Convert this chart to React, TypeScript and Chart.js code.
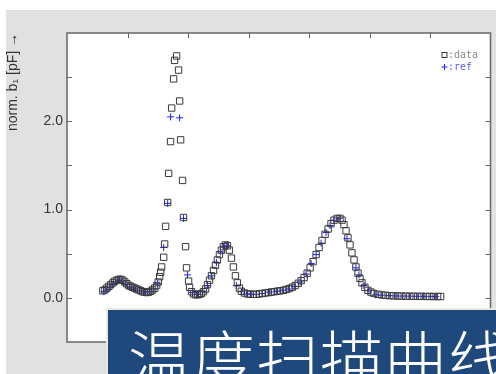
import { useEffect, useRef } from 'react';
import { Chart, registerables } from 'chart.js';

Chart.register(...registerables);

// Temperature sweep (arbitrary x units, axis 0..350)
const dataX = [
  29.6, 31.3, 32.9, 34.6, 36.2, 37.9, 39.5, 41.2, 42.8, 44.5, 46.1, 47.8, 49.4, 51.1, 52.7, 54.4,
  56.0, 57.6, 59.3, 60.9, 62.6, 64.2, 65.9, 67.5, 69.2, 70.8, 72.5, 74.1, 75.4, 76.6, 77.4, 78.2,
  79.9, 80.7, 81.5, 83.2, 84.0, 85.6, 86.5, 88.1, 88.9, 90.6, 92.2, 93.1, 93.9, 95.5, 96.3, 98.0,
  98.8, 100.5, 101.3, 102.9, 104.6, 106.2, 107.9, 109.5, 111.2, 112.8, 114.5, 116.1, 117.8, 119.4,
  121.1, 122.7, 124.3, 126.0, 127.6, 129.3, 130.9, 132.6, 134.2, 135.9, 137.5, 139.2, 140.8, 142.5,
  144.1, 146.6, 149.1, 151.5, 154.0, 156.5, 158.9, 161.4, 163.9, 166.3, 168.8, 171.3, 173.8, 176.2,
  178.7, 181.2, 183.6, 186.1, 188.6, 191.1, 193.5, 196.0, 198.5, 200.9, 203.4, 205.9, 208.3, 210.8,
  213.3, 215.8, 218.2, 220.7, 223.2, 225.6, 227.3, 228.9, 230.6, 232.2, 233.9, 235.5, 237.2, 238.8,
  240.5, 242.1, 243.8, 246.2, 248.7, 251.2, 253.6, 256.9, 260.2, 263.5, 266.8, 270.1, 273.4, 276.7,
  280.0, 283.3, 286.6, 289.9, 293.2, 296.5, 299.8, 303.0, 306.3, 308.8,
];
const dataY = [
  0.08, 0.09, 0.11, 0.13, 0.15, 0.17, 0.19, 0.2, 0.21, 0.21, 0.2, 0.18, 0.16, 0.14, 0.13, 0.12,
  0.11, 0.1, 0.09, 0.08, 0.07, 0.065, 0.06, 0.065, 0.075, 0.09, 0.11, 0.14, 0.18, 0.24, 0.29, 0.35,
  0.46, 0.61, 0.81, 1.08, 1.41, 1.77, 2.15, 2.48, 2.69, 2.74, 2.58, 2.23, 1.79, 1.33, 0.91, 0.58,
  0.34, 0.19, 0.12, 0.07, 0.045, 0.035, 0.035, 0.04, 0.05, 0.07, 0.1, 0.15, 0.2, 0.25,
  0.31, 0.37, 0.43, 0.49, 0.54, 0.58, 0.6, 0.59, 0.54, 0.45, 0.35, 0.25, 0.17, 0.11,
  0.075, 0.055, 0.045, 0.04, 0.04, 0.04, 0.045, 0.05, 0.055, 0.06, 0.065, 0.07, 0.075, 0.08,
  0.085, 0.095, 0.105, 0.12, 0.14, 0.165, 0.195, 0.23, 0.28, 0.34, 0.41, 0.49, 0.57, 0.65,
  0.72, 0.78, 0.84, 0.88, 0.9, 0.9, 0.88, 0.83, 0.76, 0.68, 0.6, 0.51, 0.43, 0.35,
  0.28, 0.22, 0.17, 0.12, 0.085, 0.065, 0.05, 0.04, 0.033, 0.028, 0.025, 0.023, 0.021, 0.02,
  0.019, 0.018, 0.018, 0.017, 0.017, 0.016, 0.016, 0.015, 0.015, 0.015,
];
const refX = [
  30.5, 32.9, 35.4, 37.9, 40.4, 42.8, 45.3, 48.6, 51.9, 56.0, 60.1, 64.2, 68.4, 71.6, 74.9, 79.9,
  83.2, 85.6, 93.1, 96.3, 99.6, 103.8, 107.9, 112.0, 116.1, 119.4, 123.5, 126.8, 129.3, 132.6,
  140.0, 144.1, 148.2, 152.3, 156.5, 161.4, 167.2, 172.9, 177.9, 182.8, 187.8, 192.7, 197.6, 201.8,
  205.9, 210.0, 214.1, 217.4, 220.7, 224.8, 231.4, 238.8, 241.3, 245.4, 249.5, 255.3, 260.2, 266.0,
  271.8, 277.5, 283.3, 289.0, 294.8, 300.6, 304.7,
];
const refY = [
  0.07, 0.09, 0.12, 0.15, 0.18, 0.2, 0.19, 0.15, 0.12, 0.1, 0.08, 0.065, 0.07, 0.1, 0.16, 0.57,
  1.07, 2.05, 2.04, 0.9, 0.26, 0.06, 0.04, 0.07, 0.14, 0.25, 0.4, 0.52, 0.58, 0.59,
  0.14, 0.07, 0.045, 0.04, 0.04, 0.05, 0.065, 0.075, 0.085, 0.1, 0.13, 0.18, 0.27, 0.39,
  0.49, 0.62, 0.74, 0.82, 0.88, 0.9, 0.67, 0.34, 0.26, 0.14, 0.08, 0.035, 0.03, 0.025,
  0.022, 0.02, 0.019, 0.018, 0.017, 0.016, 0.016,
];
const yLabelled = [0, 1, 2];
const seriesNames = ['data', 'ref'];
const yTitle = 'norm. b\u2081 [pF] \u2192';
const boxText = '温度扫描曲线';

const FRAME = '#666666';

const framePlugin = {
  id: 'frame',
  beforeDatasetsDraw(chart: any) {
    const { ctx, chartArea: a } = chart;
    ctx.save();
    ctx.fillStyle = '#ffffff';
    ctx.fillRect(a.left, a.top, a.right - a.left, a.bottom - a.top);
    ctx.restore();
  },
  afterDraw(chart: any) {
    const { ctx, chartArea: a, scales } = chart;
    ctx.save();
    ctx.strokeStyle = FRAME;
    ctx.lineWidth = 1.5;
    ctx.strokeRect(a.left, a.top, a.right - a.left, a.bottom - a.top);
    ctx.lineWidth = 1;
    const tl = 5;
    ctx.beginPath();
    scales.x.ticks.forEach((t: any) => {
      const px = Math.round(scales.x.getPixelForValue(t.value)) + 0.5;
      if (px <= a.left + 1 || px >= a.right - 1) return;
      ctx.moveTo(px, a.top);
      ctx.lineTo(px, a.top + tl);
      ctx.moveTo(px, a.bottom);
      ctx.lineTo(px, a.bottom - tl);
    });
    scales.y.ticks.forEach((t: any) => {
      const py = Math.round(scales.y.getPixelForValue(t.value)) + 0.5;
      if (py <= a.top + 1 || py >= a.bottom - 1) return;
      ctx.moveTo(a.left, py);
      ctx.lineTo(a.left + tl, py);
      ctx.moveTo(a.right, py);
      ctx.lineTo(a.right - tl, py);
    });
    ctx.stroke();

    // legend
    const ds = chart.data.datasets;
    ctx.font = '10px "DejaVu Sans Mono", monospace';
    ctx.textBaseline = 'middle';
    ctx.textAlign = 'left';
    const lx = a.right - 46;
    let ly = a.top + 22;
    ctx.strokeStyle = ds[0].borderColor;
    ctx.lineWidth = 1;
    ctx.strokeRect(lx - 2.5, ly - 2.5, 5, 5);
    ctx.fillStyle = '#8a8a8a';
    ctx.fillText(':' + ds[0].label, lx + 3.5, ly);
    ly += 12;
    ctx.strokeStyle = ds[1].borderColor;
    ctx.beginPath();
    ctx.moveTo(lx - 3, ly);
    ctx.lineTo(lx + 3, ly);
    ctx.moveTo(lx, ly - 3);
    ctx.lineTo(lx, ly + 3);
    ctx.stroke();
    ctx.fillStyle = '#5a5af0';
    ctx.fillText(':' + ds[1].label, lx + 3.5, ly);
    ctx.restore();
  },
};

export default function App() {
  const ref = useRef<HTMLCanvasElement | null>(null);
  useEffect(() => {
    if (!ref.current) return;
    const chart = new Chart(ref.current, {
      type: 'scatter',
      data: {
        datasets: [
          {
            label: seriesNames[0],
            data: dataX.map((x, i) => ({ x, y: dataY[i] })),
            pointStyle: 'rect',
            pointRadius: 4.5,
            borderColor: '#3a3a3a',
            backgroundColor: 'rgba(0,0,0,0)',
            borderWidth: 1,
          },
          {
            label: seriesNames[1],
            data: refX.map((x, i) => ({ x, y: refY[i] })),
            pointStyle: 'cross',
            pointRadius: 3.5,
            borderColor: '#2020ff',
            backgroundColor: '#2020ff',
            borderWidth: 1,
          },
        ],
      },
      options: {
        animation: false,
        responsive: false,
        maintainAspectRatio: false,
        layout: { padding: { left: 5, top: 33, right: 4, bottom: 32 } },
        plugins: { legend: { display: false }, tooltip: { enabled: false } },
        scales: {
          x: {
            type: 'linear',
            min: 0,
            max: 350,
            ticks: { display: false, stepSize: 50 },
            grid: { display: false, drawTicks: false },
            border: { display: false },
            afterFit: (s: any) => {
              s.height = 0;
            },
          },
          y: {
            type: 'linear',
            min: -0.5,
            max: 3.0,
            ticks: {
              stepSize: 0.5,
              padding: 4,
              color: '#333333',
              font: { family: '"Liberation Sans", Arial, sans-serif', size: 14 },
              callback: (v: any) => (yLabelled.includes(Number(v)) ? Number(v).toFixed(1) : ''),
            },
            grid: { display: false, drawTicks: false },
            border: { display: false },
            title: {
              display: true,
              text: yTitle,
              align: 'end',
              color: '#333333',
              padding: 0,
              font: { family: '"Liberation Sans", Arial, sans-serif', size: 14 },
            },
            afterFit: (s: any) => {
              s.width = 62;
            },
          },
        },
      },
      plugins: [framePlugin],
    });
    return () => chart.destroy();
  }, []);

  return (
    <div
      style={{
        position: 'fixed',
        left: 0,
        top: 0,
        width: 496,
        height: 374,
        overflow: 'hidden',
        background: '#ffffff',
      }}
    >
      <div
        style={{
          position: 'absolute',
          left: 6,
          top: 10,
          width: 490,
          height: 364,
          background: '#e1e1e1',
        }}
      />
      <canvas
        ref={ref}
        width={496}
        height={374}
        style={{ position: 'absolute', left: 0, top: 0, width: 496, height: 374 }}
      />
      <div
        style={{
          position: 'absolute',
          left: 106,
          top: 308,
          width: 420,
          height: 90,
          boxSizing: 'border-box',
          background: '#1f497d',
          border: '2px solid #ebe8dc',
          borderRight: 'none',
          borderBottom: 'none',
          color: '#ffffff',
          fontFamily: '"Noto Sans CJK SC", sans-serif',
          fontWeight: 300,
          fontSize: 63,
          lineHeight: '63px',
          whiteSpace: 'nowrap',
          paddingLeft: 20,
          paddingTop: 14,
          letterSpacing: 1,
        }}
      >
        {boxText}
      </div>
    </div>
  );
}
